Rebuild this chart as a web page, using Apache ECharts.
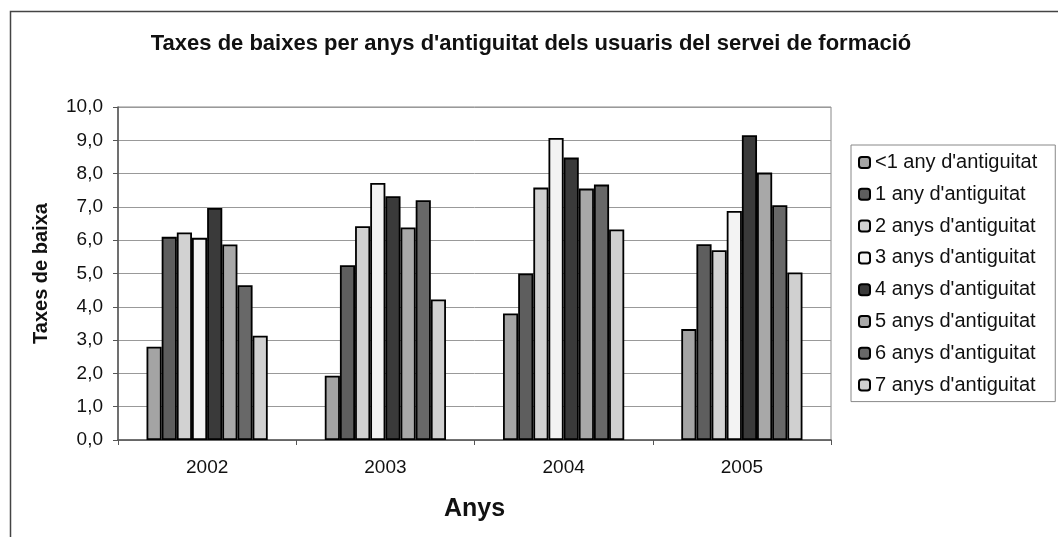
<!DOCTYPE html>
<html>
<head>
<meta charset="utf-8">
<script src="https://cdn.jsdelivr.net/npm/echarts@6/dist/echarts.min.js"></script>
<style>html,body{margin:0;padding:0;background:#fff;}#c{width:1058px;height:537px;}</style>
</head>
<body>
<div id="c"></div>
<script>
const years = ['2002', '2003', '2004', '2005'];
const seriesNames = ["<1 any d'antiguitat", "1 any d'antiguitat", "2 anys d'antiguitat", "3 anys d'antiguitat", "4 anys d'antiguitat", "5 anys d'antiguitat", "6 anys d'antiguitat", "7 anys d'antiguitat"];
const lessThan1 = [2.8, 1.93, 3.8, 3.33];
const year1 = [6.1, 5.25, 5.0, 5.88];
const years2 = [6.23, 6.42, 7.58, 5.7];
const years3 = [6.07, 7.72, 9.07, 6.88];
const years4 = [6.97, 7.32, 8.48, 9.15];
const years5 = [5.87, 6.38, 7.55, 8.03];
const years6 = [4.65, 7.2, 7.67, 7.05];
const years7 = [3.13, 4.22, 6.32, 5.03];
const yTicks = [0, 1, 2, 3, 4, 5, 6, 7, 8, 9, 10];

const values = [lessThan1, year1, years2, years3, years4, years5, years6, years7];
const colors = ['#a4a4a4', '#5e5e5e', '#d2d2d2', '#f3f3f3', '#3a3a3a', '#a8a8a8', '#686868', '#d0d0d0'];
const FONT = 'Liberation Sans, Arial, sans-serif';

const chart = echarts.init(document.getElementById('c'));
chart.setOption({
  animation: false,
  backgroundColor: '#fff',
  graphic: [{
    type: 'rect', shape: {x: 10.5, y: 11.5, width: 1100, height: 600},
    style: {fill: 'none', stroke: '#444', lineWidth: 1.5}, silent: true, z: -1
  }],
  title: {
    text: "Taxes de baixes per anys d'antiguitat dels usuaris del servei de formació",
    left: 526, top: 28, textAlign: 'center',
    textStyle: {fontFamily: FONT, fontSize: 22, fontWeight: 'bold', color: '#111'}
  },
  legend: {
    orient: 'vertical', left: 851, top: 145,
    padding: [7, 18, 6, 7],
    itemWidth: 11, itemHeight: 11, itemGap: 10.8,
    borderColor: '#888', borderWidth: 1,
    textStyle: {fontFamily: FONT, fontSize: 20, color: '#111', lineHeight: 21},
    data: seriesNames
  },
  grid: {left: 118, top: 107, width: 713, height: 333, show: true, borderColor: '#888', borderWidth: 1},
  xAxis: {
    type: 'category', data: years,
    axisLine: {lineStyle: {color: '#555', width: 1.5}},
    axisTick: {show: true, length: 5, lineStyle: {color: '#555'}},
    axisLabel: {fontFamily: FONT, fontSize: 19, color: '#111', margin: 18},
    name: 'Anys', nameLocation: 'middle', nameGap: 57,
    nameTextStyle: {fontFamily: FONT, fontSize: 25, fontWeight: 'bold', color: '#111'}
  },
  yAxis: {
    type: 'value', min: yTicks[0], max: yTicks[yTicks.length - 1], interval: 1,
    axisLine: {show: true, lineStyle: {color: '#555', width: 1.5}},
    axisTick: {show: true, length: 5, lineStyle: {color: '#555'}},
    splitLine: {lineStyle: {color: '#999', width: 1}},
    axisLabel: {fontFamily: FONT, fontSize: 19, color: '#111', margin: 15,
      formatter: v => v.toFixed(1).replace('.', ',')},
    name: 'Taxes de baixa', nameLocation: 'middle', nameGap: 67,
    nameTextStyle: {fontFamily: FONT, fontSize: 20, fontWeight: 'bold', color: '#111'}
  },
  series: seriesNames.map((n, i) => ({
    name: n, type: 'bar', data: values[i],
    barGap: '0%', barCategoryGap: '32%',
    itemStyle: {color: colors[i], borderColor: '#000', borderWidth: 1.8}
  }))
});
</script>
</body>
</html>
